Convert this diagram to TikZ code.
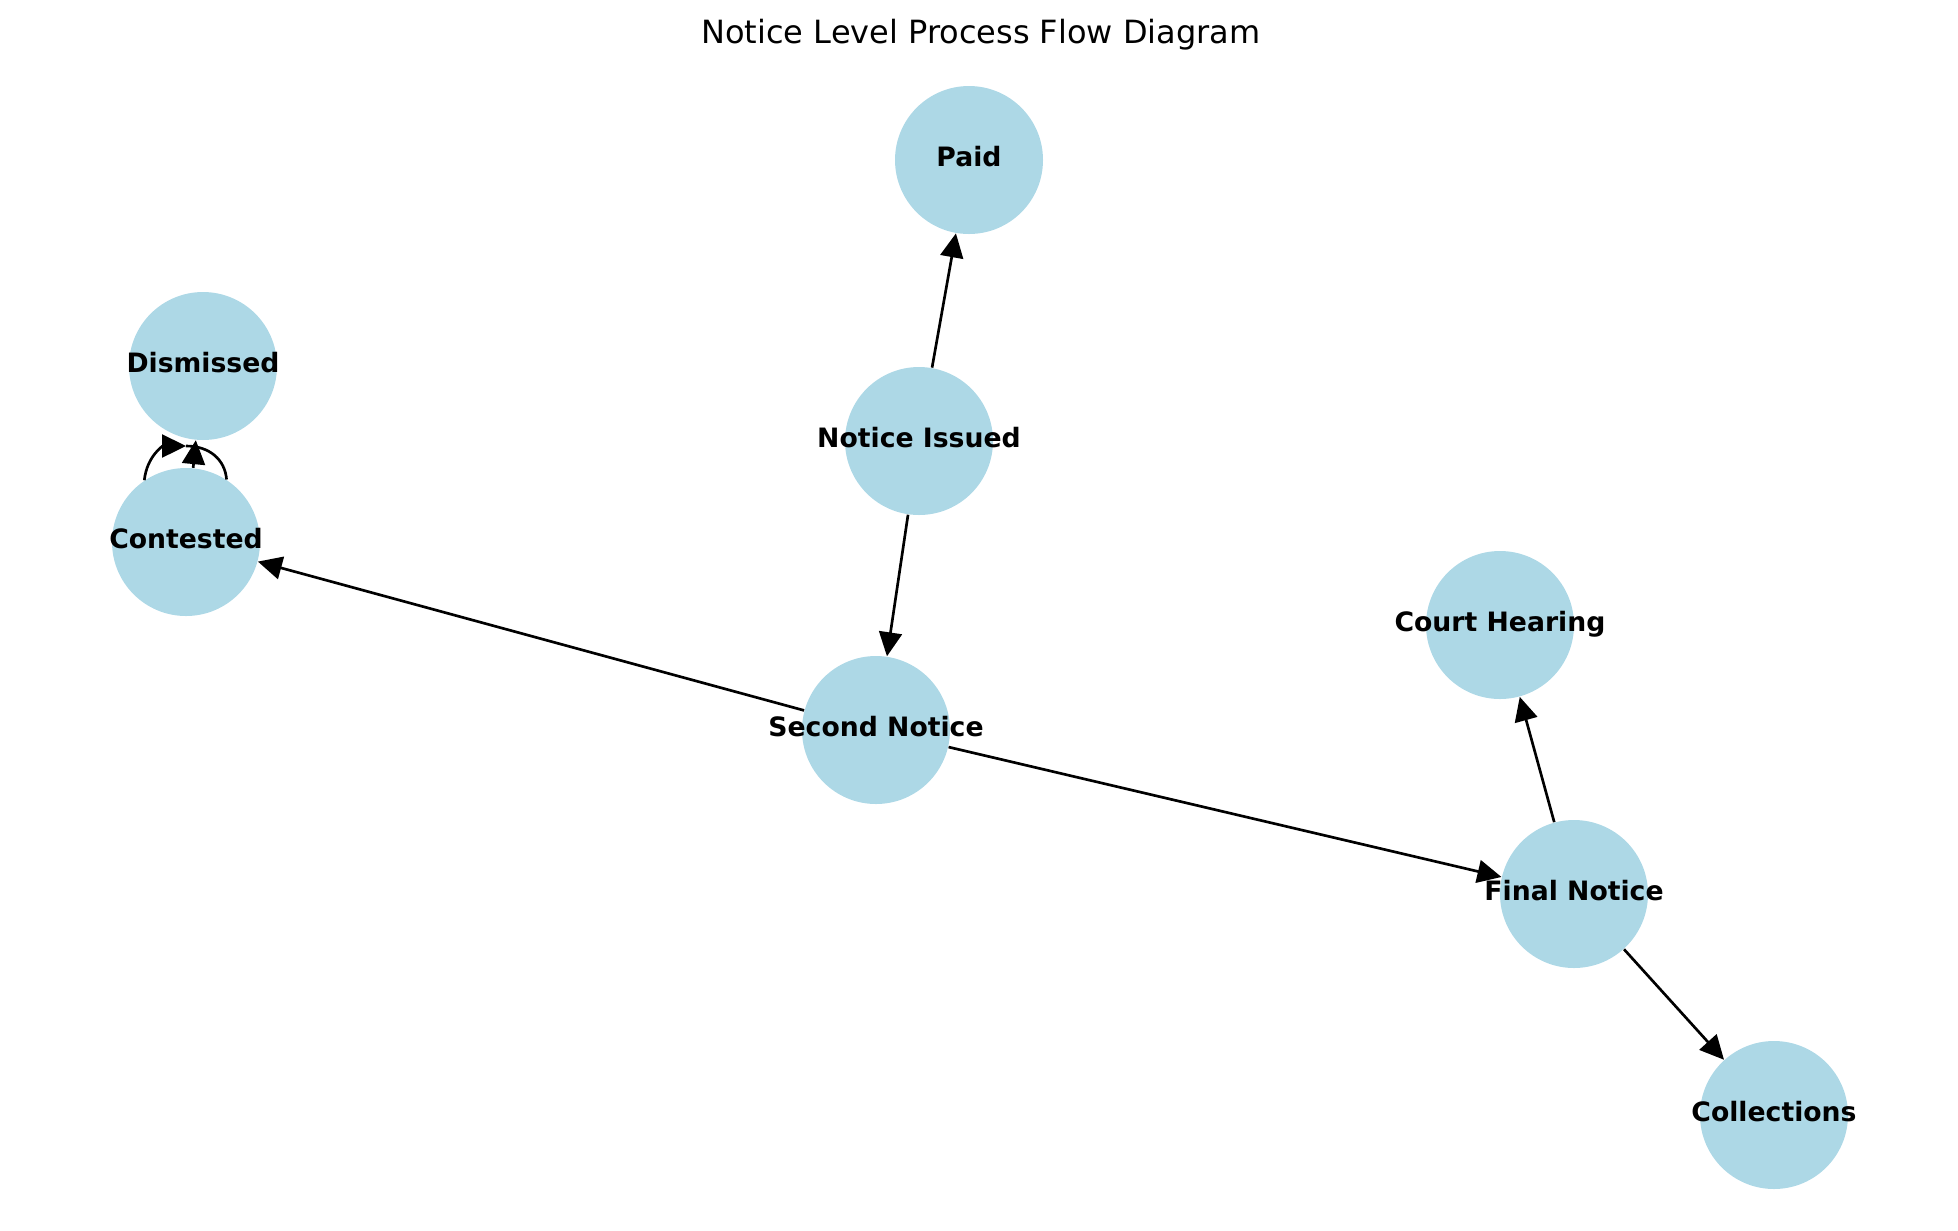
\documentclass[tikz,border=0pt]{standalone}
\usepackage{fontspec}
\setmainfont{DejaVu Sans}
\usetikzlibrary{arrows.meta}
\definecolor{nodeblue}{HTML}{ADD8E6}
\newcommand{\statelabel}[1]{\makebox[0pt]{#1}}
\tikzset{
  state/.style={circle, fill=nodeblue, inner sep=0pt, minimum size=55.5pt,
    font=\fontsize{10pt}{12pt}\selectfont\bfseries, text height=7.3pt, text depth=2.4pt},
  flow/.style={line width=1pt, -{Triangle[length=9pt,width=8.6pt]}},
  plain/.style={line width=1pt},
}
\begin{document}
\begin{tikzpicture}[x=0.375pt, y=-0.375pt]
\useasboundingbox (0,0) rectangle (1958,1230);
\node[font=\fontsize{12pt}{14pt}\selectfont, anchor=base] (title) at (981,43) {Notice Level Process Flow Diagram};

\node[state] (paid) at (969,160) {\statelabel{Paid}};
\node[state] (issued) at (919,441) {\statelabel{Notice Issued}};
\node[state] (dismissed) at (203,366) {\statelabel{Dismissed}};
\node[state] (contested) at (186,542) {\statelabel{Contested}};
\node[state] (court) at (1500,625) {\statelabel{Court Hearing}};
\node[state] (second) at (876,730) {\statelabel{Second Notice}};
\node[state] (final) at (1574,894) {\statelabel{Final Notice}};
\node[state] (collections) at (1774,1115) {\statelabel{Collections}};

\draw[flow] (issued) -- (paid);
\draw[flow] (issued) -- (second);
\draw[flow] (second) -- (contested);
\draw[flow] (second) -- (final);
\draw[flow] (final) -- (court);
\draw[flow] (final) -- (collections);
\draw[flow] (contested) -- (dismissed);

\coordinate (loopapex) at (186,446);
\draw[flow] (contested.124.5) .. controls (147,456) and (163,446) .. (loopapex);
\draw[plain] (loopapex) .. controls (210,446) and (225,460) .. (contested.57);
\end{tikzpicture}
\end{document}
